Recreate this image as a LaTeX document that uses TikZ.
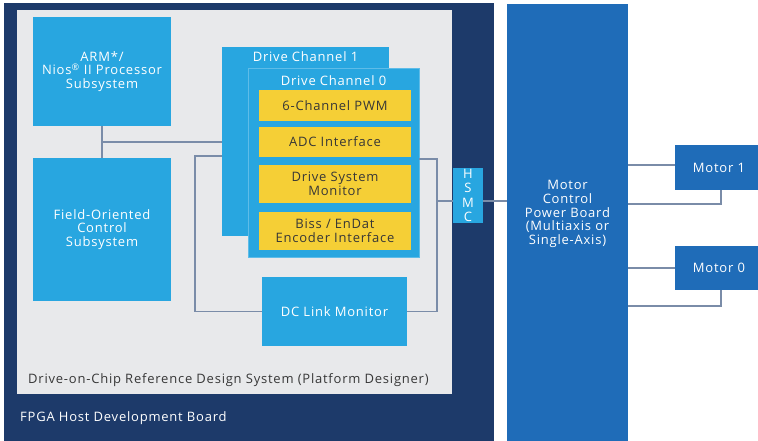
\documentclass[tikz,border=0pt]{standalone}
\usepackage{fontspec}
\setmainfont{Open Sans}[LetterSpace=6]
\usetikzlibrary{positioning}
\definecolor{boardnavy}{RGB}{29,58,106}
\definecolor{chipgray}{RGB}{232,233,235}
\definecolor{subblue}{RGB}{40,166,224}
\definecolor{powerblue}{RGB}{31,108,184}
\definecolor{ipyellow}{RGB}{245,207,54}
\definecolor{wiregray}{RGB}{122,140,168}
\definecolor{inktext}{RGB}{55,55,55}

\begin{document}
\begin{tikzpicture}[x=1pt, y=-1pt, font=\fontsize{13}{13.8}\selectfont,
	blk/.style={fill=subblue, text=white, align=center, inner sep=0pt},
	ipcore/.style={fill=ipyellow, text=inktext, align=center, inner sep=0pt, minimum width=152},
	pwrblk/.style={fill=powerblue, text=white, align=center, inner sep=0pt},
	chtitle/.style={text=white, inner sep=0pt},
	link/.style={draw=wiregray, line width=1.3pt}]
	\useasboundingbox (0,0) rectangle (758,441);
	% boards
	\node[fill=boardnavy, minimum width=490, minimum height=438, anchor=north west, inner sep=0pt] (fpga) at (4,3) {};
	\node[fill=chipgray, minimum width=435, minimum height=384, anchor=north west, inner sep=0pt] (doc) at (17,10) {};
	\node[text=white, anchor=west, inner sep=0pt] (fpgalabel) at (20,418) {FPGA Host Development Board};
	\node[text=inktext, anchor=west, inner sep=0pt] (doclabel) at (28,380) {Drive-on-Chip Reference Design System (Platform Designer)};
	% processor side
	\node[blk, minimum width=138, minimum height=109] (arm) at (102,71.5) {ARM*/\\Nios\textsuperscript{\textregistered} II Processor\\Subsystem};
	\node[blk, minimum width=138, minimum height=143] (foc) at (102,229.5) {Field-Oriented\\Control\\Subsystem};
	% drive channels
	\node[blk, minimum width=167, minimum height=189] (ch1) at (305.5,141.5) {};
	\node[chtitle, below=4.5pt of ch1.north] (ch1title) {Drive Channel 1};
	\node[blk, draw=subblue!75!white, line width=0.6pt, minimum width=171, minimum height=189] (ch0) at (333.5,162.5) {};
	\node[chtitle, below=7.5pt of ch0.north] (ch0title) {Drive Channel 0};
	\node[ipcore, minimum height=31] (pwm) at (335,105.5) {6-Channel PWM};
	\node[ipcore, minimum height=30] (adc) at (335,142) {ADC Interface};
	\node[ipcore, minimum height=38] (dsm) at (335,184) {Drive System\\Monitor};
	\node[ipcore, minimum height=38] (enc) at (335,231) {Biss / EnDat\\Encoder Interface};
	\node[blk, minimum width=145, minimum height=69] (dcl) at (334.5,311.5) {DC Link Monitor};
	\node[blk, minimum width=30, minimum height=55, font=\fontsize{13}{14.2}\selectfont] (hsmc) at (468,195.5) {H\\S\\M\\C};
	% power board and motors
	\node[pwrblk, minimum width=121, minimum height=437] (mcb) at (567.5,222.5) {};
	\node[text=white, align=center, inner sep=0pt] (mcblabel) at (567.5,214) {Motor\\Control\\Power Board\\(Multiaxis or\\Single-Axis)};
	\node[pwrblk, minimum width=88, minimum height=45] (m1) at (719,167.5) {Motor 1};
	\node[pwrblk, minimum width=88, minimum height=44] (m0) at (719,268) {Motor 0};
	% wiring
	\draw[link] (arm.south) -- (foc.north);
	\draw[link] (arm.south |- 0,142) -- (ch1.west |- 0,142);
	\coordinate (lcorner) at (195,156);
	\draw[link] (dcl.west) -| (lcorner) -- (lcorner -| ch1.west);
	\coordinate (rcorner) at (437,159);
	\draw[link] (dcl.east) -| (rcorner) -- (rcorner -| ch0.east);
	\coordinate (tap) at (437,201);
	\draw[link] (tap) -- (tap -| hsmc.west);
	\draw[link] (tap -| hsmc.east) -- (tap -| mcb.west);
	\draw[link] (mcb.east |- 0,165) -- (m1.west |- 0,165);
	\coordinate (m1ret) at (721,204);
	\draw[link] (mcb.east |- m1ret) -- (m1ret) -- (m1ret |- m1.south);
	\draw[link] (mcb.east |- m0.west) -- (m0.west);
	\coordinate (m0ret) at (721,306);
	\draw[link] (mcb.east |- m0ret) -- (m0ret) -- (m0ret |- m0.south);
\end{tikzpicture}
\end{document}
